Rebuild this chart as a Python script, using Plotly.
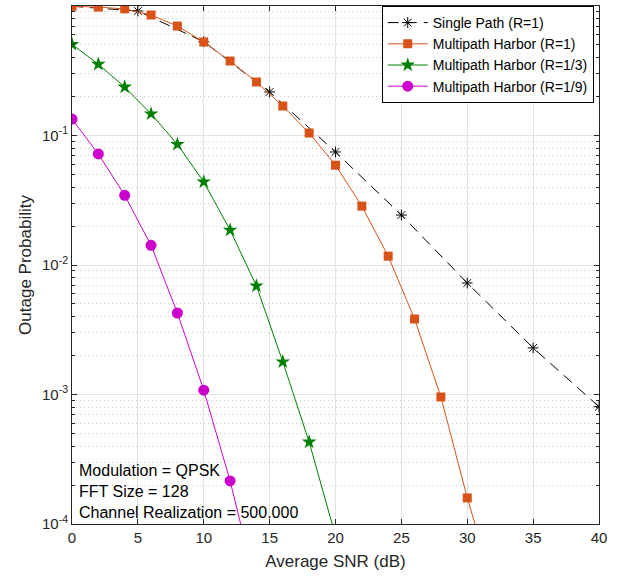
import plotly.graph_objects as go

snr_single = [0, 5, 10, 15, 20, 25, 30, 35, 40]
p_single = [0.995, 0.915, 0.53, 0.217, 0.0746, 0.0243, 0.00726, 0.00229, 0.000805]

snr_even = [0, 2, 4, 6, 8, 10, 12, 14, 16, 18, 20, 22, 24, 26, 28, 30, 32]
p_harbor_1 = [0.995, 0.98, 0.95, 0.852, 0.70, 0.527, 0.376, 0.259, 0.169, 0.1045,
              0.059, 0.0285, 0.0117, 0.00383, 0.000957, 0.000159, 0.000033]

snr_r3 = [0, 2, 4, 6, 8, 10, 12, 14, 16, 18, 20]
p_harbor_3 = [0.506, 0.355, 0.237, 0.147, 0.0855, 0.0438, 0.0186, 0.00689, 0.00179, 0.00043, 0.000081]

snr_r9 = [0, 2, 4, 6, 8, 10, 12, 14]
p_harbor_9 = [0.134, 0.072, 0.0345, 0.0142, 0.00426, 0.00108, 0.000215, 0.000032]

x_ticks = [0, 5, 10, 15, 20, 25, 30, 35, 40]
y_ticks = [1e-4, 1e-3, 1e-2, 1e-1, 1]
y_ticktext = ["10<sup>-4</sup>", "10<sup>-3</sup>", "10<sup>-2</sup>", "10<sup>-1</sup>", "10<sup>0</sup>"]
y_minor = [m * 10 ** e for e in range(-4, 0) for m in range(2, 10)]

FONT = "Liberation Sans, Arial, sans-serif"

fig = go.Figure()
fig.add_trace(go.Scatter(x=snr_single, y=p_single, mode="lines+markers", name="Single Path (R=1)",
                         line=dict(color="black", width=1, dash="11px,7px"),
                         marker=dict(symbol="asterisk-open", size=9, color="black",
                                     line=dict(color="black", width=1))))
fig.add_trace(go.Scatter(x=snr_even, y=p_harbor_1, mode="lines+markers", name="Multipath Harbor (R=1)",
                         line=dict(color="#D95319", width=1),
                         marker=dict(symbol="square", size=9, color="#D95319")))
fig.add_trace(go.Scatter(x=snr_r3, y=p_harbor_3, mode="lines+markers", name="Multipath Harbor (R=1/3)",
                         line=dict(color="#008000", width=1),
                         marker=dict(symbol="star", size=11, color="#008000")))
fig.add_trace(go.Scatter(x=snr_r9, y=p_harbor_9, mode="lines+markers", name="Multipath Harbor (R=1/9)",
                         line=dict(color="#CC00CC", width=1),
                         marker=dict(symbol="circle", size=11, color="#CC00CC")))

axis_common = dict(showline=True, linecolor="#262626", linewidth=1, mirror="allticks",
                   ticks="inside", ticklen=5, tickcolor="#262626",
                   tickfont=dict(family=FONT, size=15, color="#262626"),
                   showgrid=True, gridcolor="#E3E3E3", gridwidth=1, zeroline=False)

fig.update_xaxes(range=[0, 40], tickvals=x_ticks,
                 title=dict(text="Average SNR (dB)", font=dict(family=FONT, size=17, color="#262626"), standoff=10),
                 **axis_common)
fig.update_yaxes(type="log", range=[-4, 0], tickvals=y_ticks, ticktext=y_ticktext,
                 title=dict(text="Outage Probability", font=dict(family=FONT, size=17, color="#262626"), standoff=6),
                 minor=dict(tickvals=y_minor, ticks="inside", ticklen=3, tickcolor="#262626",
                            showgrid=True, gridcolor="#CFCFCF", griddash="1px,3px", gridwidth=1),
                 **axis_common)

fig.add_annotation(xref="paper", yref="paper", x=0.01, y=0.002, xanchor="left", yanchor="bottom",
                   align="left", showarrow=False,
                   text="Modulation = QPSK<br>FFT Size = 128<br>Channel Realization = 500.000",
                   font=dict(family=FONT, size=16, color="black"))

fig.update_layout(width=630, height=579, margin=dict(l=72, r=31, t=6, b=55),
                  plot_bgcolor="white", paper_bgcolor="white",
                  font=dict(family=FONT, size=14, color="black"),
                  legend=dict(x=0.99, y=1.0, xanchor="right", yanchor="top",
                              bgcolor="white", bordercolor="black", borderwidth=1,
                              font=dict(family=FONT, size=14, color="black"),
                              itemwidth=40, tracegroupgap=0))

fig.write_html("out.html")
